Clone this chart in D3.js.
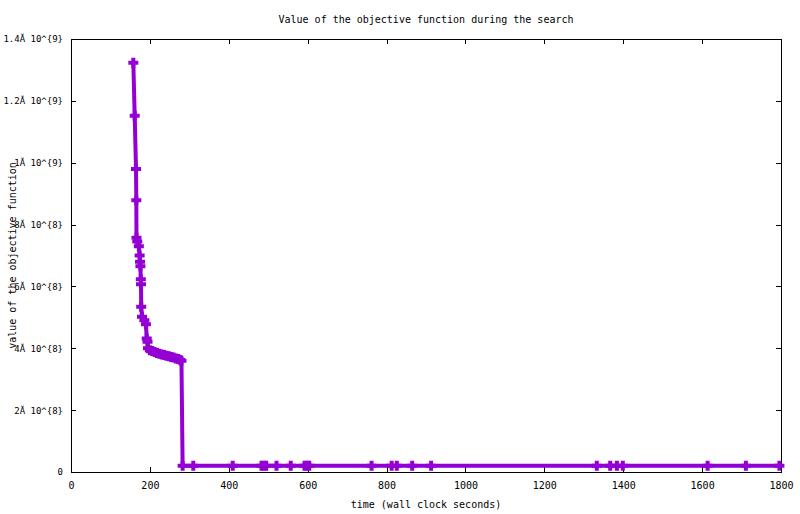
<!DOCTYPE html>
<html>
<head>
<meta charset="utf-8">
<script src="https://cdn.jsdelivr.net/npm/d3@7"></script>
<style>
body { margin: 0; background: #fff; }
text { font-family: "DejaVu Sans Mono", monospace; font-size: 10px; fill: #000; }
.axis path, .axis line { stroke: #000; stroke-width: 1; shape-rendering: crispEdges; }
.yaxis text { font-size: 9px; }
</style>
</head>
<body>
<div id="chart"></div>
<script>
// Wall clock time of each evaluation (seconds)
const times = [
  158, 161.5, 164.8, 165.6, 166, 168, 172, 174, 175, 176, 177, 177.5, 178,
  180, 186, 190, 192, 194, 195, 200, 206, 212, 218, 224, 230, 236, 242,
  248, 254, 260, 266, 272, 277, 280,
  283, 310, 410, 483, 489, 495, 521, 557, 592, 598, 604, 762, 813, 826,
  865, 913, 1333, 1367, 1384, 1399, 1614, 1711, 1796
];
// Objective function value at each of those times
const values = [
  1.323e9, 1.152e9, 0.98e9, 0.879e9, 0.757e9, 0.745e9, 0.730e9, 0.700e9,
  0.680e9, 0.665e9, 0.623e9, 0.607e9, 0.534e9,
  0.502e9, 0.491e9, 0.478e9, 0.432e9, 0.421e9, 0.400e9, 0.394e9, 0.391e9,
  0.388e9, 0.385e9, 0.382e9, 0.380e9, 0.378e9, 0.376e9,
  0.374e9, 0.372e9, 0.370e9, 0.367e9, 0.365e9, 0.362e9, 0.360e9,
  2.0e7, 2.0e7, 2.0e7, 2.0e7, 2.0e7, 2.0e7, 2.0e7, 2.0e7, 2.0e7, 2.0e7,
  2.0e7, 2.0e7, 2.0e7, 2.0e7, 2.0e7, 2.0e7, 2.0e7, 2.0e7, 2.0e7, 2.0e7,
  2.0e7, 2.0e7, 2.0e7
];

const xTicks = [0, 200, 400, 600, 800, 1000, 1200, 1400, 1600, 1800];
const yTicks = [0, 2e8, 4e8, 6e8, 8e8, 1e9, 1.2e9, 1.4e9];
const yTickLabels = ["0", "2Ă 10^{8}", "4Ă 10^{8}", "6Ă 10^{8}", "8Ă 10^{8}",
                     "1Ă 10^{9}", "1.2Ă 10^{9}", "1.4Ă 10^{9}"];

const titleText = "Value of the objective function during the search";
const xLabel = "time (wall clock seconds)";
const yLabel = "value of the objective function";

// Dimensions
const W = 800, H = 514;
const margin = { top: 39, right: 19, bottom: 42, left: 71 },
  width  = W - margin.left - margin.right,
  height = H - margin.top - margin.bottom;

const svg = d3.select("#chart")
  .append("svg")
  .attr("width", W)
  .attr("height", H);

const g = svg.append("g")
  .attr("transform", `translate(${margin.left},${margin.top})`);

const x = d3.scaleLinear().domain([0, 1800]).range([0, width]);
const y = d3.scaleLinear().domain([0, 1.4e9]).range([height, 0]);

// Axes: gnuplot style, ticks pointing inward on all four sides
g.append("g")
  .attr("class", "axis")
  .attr("transform", `translate(0,${height})`)
  .call(d3.axisBottom(x).tickValues(xTicks).tickSizeInner(-5).tickSizeOuter(0).tickPadding(10)
    .tickFormat(d3.format("d")));

g.append("g")
  .attr("class", "axis")
  .call(d3.axisTop(x).tickValues(xTicks).tickSizeInner(-5).tickSizeOuter(0).tickFormat(""));

g.append("g")
  .attr("class", "axis yaxis")
  .call(d3.axisLeft(y).tickValues(yTicks).tickSizeInner(-5).tickSizeOuter(0).tickPadding(8)
    .tickFormat((d, i) => yTickLabels[i]));

g.append("g")
  .attr("class", "axis")
  .attr("transform", `translate(${width},0)`)
  .call(d3.axisRight(y).tickValues(yTicks).tickSizeInner(-5).tickSizeOuter(0).tickFormat(""));

svg.selectAll(".axis text")
  .attr("font-family", null).attr("font-size", null).style("fill", "#000");

// Data line with "+" points
const pts = times.map((t, i) => ({ t: t, v: values[i] }));
const color = "#9400d3";

g.append("path")
  .datum(pts)
  .attr("fill", "none")
  .attr("stroke", color)
  .attr("stroke-width", 4)
  .attr("stroke-linejoin", "miter")
  .attr("d", d3.line().x(d => x(d.t)).y(d => y(d.v)));

g.selectAll(".pt")
  .data(pts)
  .enter().append("path")
  .attr("class", "pt")
  .attr("transform", d => `translate(${x(d.t)},${y(d.v)})`)
  .attr("d", "M-5,0H5M0,-5V5")
  .attr("stroke", color)
  .attr("stroke-width", 4)
  .attr("fill", "none");

// Titles
svg.append("text")
  .attr("x", margin.left + width / 2)
  .attr("y", 20)
  .attr("text-anchor", "middle")
  .attr("dominant-baseline", "middle")
  .text(titleText);

svg.append("text")
  .attr("x", margin.left + width / 2)
  .attr("y", 505)
  .attr("text-anchor", "middle")
  .attr("dominant-baseline", "middle")
  .text(xLabel);

svg.append("text")
  .attr("transform", `translate(13,${margin.top + height / 2}) rotate(-90)`)
  .attr("text-anchor", "middle")
  .attr("dominant-baseline", "middle")
  .text(yLabel);
</script>
</body>
</html>
